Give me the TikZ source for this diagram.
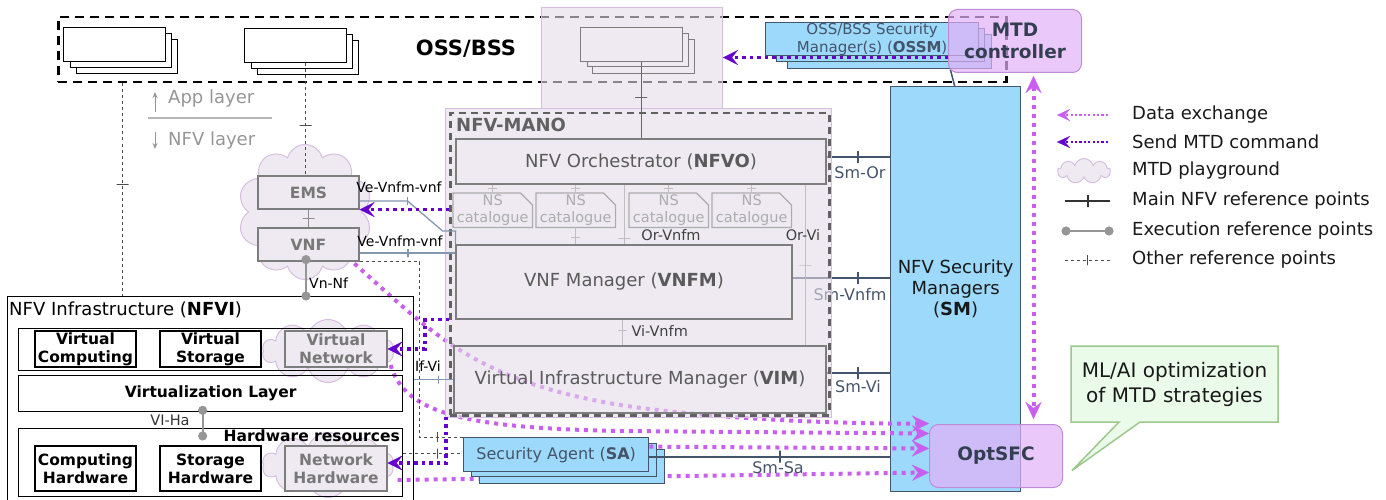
\documentclass[tikz,border=0pt]{standalone}
\usepackage{fontspec}
\setmainfont{DejaVu Sans}
\usetikzlibrary{arrows.meta,shapes.symbols,shapes.callouts}

\definecolor{flowpink}{RGB}{200,95,240}
\definecolor{cmdpurple}{RGB}{102,0,204}
\definecolor{smblue}{RGB}{157,217,250}
\definecolor{slate}{RGB}{68,84,106}
\definecolor{lav}{RGB}{239,234,242}
\definecolor{lavbase}{RGB}{228,220,233}
\definecolor{lavline}{RGB}{214,190,224}
\definecolor{mtdfill}{RGB}{226,176,248}
\definecolor{mtdline}{RGB}{190,140,215}
\definecolor{manotext}{RGB}{90,90,90}
\definecolor{ghosttext}{RGB}{120,120,120}
\definecolor{ghostline}{RGB}{125,125,125}
\definecolor{nsgray}{RGB}{172,172,172}
\definecolor{faintref}{RGB}{190,190,190}
\definecolor{linkgray}{RGB}{132,151,176}
\definecolor{execgray}{RGB}{150,150,150}
\definecolor{notefill}{RGB}{235,251,234}
\definecolor{noteline}{RGB}{157,200,141}
\definecolor{inktext}{RGB}{25,25,25}
\definecolor{layergray}{RGB}{150,150,150}
\definecolor{titleslate}{RGB}{51,63,80}

\pgfdeclarelayer{bottom}
\pgfdeclarelayer{shade}
\pgfsetlayers{bottom,shade,main}

\tikzset{
  fsz/.style n args={2}{font=\fontsize{#1}{#2}\selectfont},
  bfsz/.style n args={2}{font=\fontsize{#1}{#2}\selectfont\bfseries},
  datatip/.tip={Stealth[length=17pt,width=16pt,inset=6pt,line width=0.1pt]},
  cmdtip/.tip={Stealth[length=15pt,width=15pt,inset=6pt,line width=0.1pt]},
  smalldatatip/.tip={Stealth[length=13pt,width=12pt,inset=5pt,line width=0.1pt]},
  sheet/.style={draw=black, fill=white, line width=1.2pt, inner sep=0pt, anchor=north west},
  ghostsheet/.style={draw=ghostline, fill=lav, line width=1.2pt, inner sep=0pt, anchor=north west},
  bluesheet/.style={draw=slate, fill=smblue, line width=1.3pt, inner sep=0pt, anchor=north west},
  zone/.style={draw=lavline, fill=lavbase, fill opacity=0.6, line width=1pt, inner sep=0pt, anchor=north west},
  manobox/.style={draw=ghostline, line width=1.2pt, inner sep=0pt, text=manotext, fsz={18}{22}},
  infrabox/.style={draw=black, line width=1.3pt, inner sep=0pt},
  resbox/.style={draw=black, line width=1.3pt, inner sep=0pt, align=center, bfsz={15.5}{18}},
  ghostbox/.style={draw=ghostline, fill=lav, line width=1.2pt, inner sep=0pt, align=center, text=ghosttext, bfsz={15.5}{18}},
  playground/.style={cloud, cloud puffs=10, cloud ignores aspect, draw=lavline, fill=lav, line width=1pt, inner sep=0pt},
  catalogue/.style={inner sep=0pt, minimum width=79pt, minimum height=34pt, anchor=north west, align=center, text=nsgray, fsz={14.5}{17}},
  mtdbox/.style={draw=mtdline, fill=mtdfill, fill opacity=0.7, text opacity=1, rounded corners=9pt, line width=1pt, inner sep=0pt, anchor=north west, align=center, text=titleslate, bfsz={18.5}{22}},
  mainref/.style={draw=slate, line width=2pt},
  faint/.style={draw=faintref, line width=1pt},
  otherref/.style={draw=black!70, line width=0.8pt, dash pattern=on 3pt off 3pt},
  linkref/.style={draw=linkgray, line width=1.3pt},
  execref/.style={draw=execgray, line width=2.2pt, {Circle[length=9pt]}-{Circle[length=9pt]}, shorten <=-4.5pt, shorten >=-4.5pt},
  vtick/.style={draw, solid, inner sep=0pt, minimum width=0pt, minimum height=#1},
  vtick/.default=10pt,
  htick/.style={draw, solid, inner sep=0pt, minimum height=0pt, minimum width=#1},
  htick/.default=10pt,
  dataflow/.style={draw=flowpink, line width=4pt, dash pattern=on 4pt off 5pt, -datatip},
  cmdflow/.style={draw=cmdpurple, line width=3.5pt, dash pattern=on 3.5pt off 4pt, -cmdtip},
  reflabel/.style={fsz={14}{17}, text=black, inner sep=1pt},
  smlabel/.style={fsz={16}{19}, text=slate, inner sep=1pt},
  legendtext/.style={fsz={18}{22}, text=inktext, anchor=west, inner sep=0pt},
}

\begin{document}
\begin{tikzpicture}[x=1pt,y=-1pt]
\useasboundingbox (0,0) rectangle (1386,500);
\clip (0,0) rectangle (1386,500);

% ---------------- OSS/BSS domain ----------------
\begin{pgfonlayer}{bottom}
  \node[draw=black, line width=2.5pt, dash pattern=on 9pt off 6pt, inner sep=0pt,
        minimum width=948pt, minimum height=65pt, anchor=north west] (oss) at (57,16) {};
\end{pgfonlayer}

\node[sheet, minimum width=101pt, minimum height=34pt] at (76,39) {};
\node[sheet, minimum width=101pt, minimum height=34pt] at (70,33) {};
\node[sheet, minimum width=102pt, minimum height=34pt] (app1) at (63,27) {};

\node[sheet, minimum width=101pt, minimum height=34pt] at (257,40) {};
\node[sheet, minimum width=101pt, minimum height=34pt] at (251,34) {};
\node[sheet, minimum width=102pt, minimum height=34pt] (app2) at (244,28) {};

\node[bfsz={21}{25}] (osslabel) at (466,49) {OSS/BSS};

% layer separation
\node[fsz={18}{22}, text=layergray, anchor=west, inner sep=0pt] (applayer) at (168,99) {App layer};
\node[fsz={18}{22}, text=layergray, anchor=west, inner sep=0pt] (nfvlayer) at (168,141) {NFV layer};
\draw[layergray!70, line width=1.2pt] (148,118) -- (272,118);
\draw[layergray, line width=1pt, -{Stealth[length=6pt,width=5pt]}] (155,112) -- (155,92);
\draw[layergray, line width=1pt, -{Stealth[length=6pt,width=5pt]}] (155,132) -- (155,149);

% ---------------- NFV-MANO zone ----------------
\begin{pgfonlayer}{shade}
  \node[zone, minimum width=181pt, minimum height=101pt] (osszone) at (541,7) {};
  \node[zone, minimum width=386pt, minimum height=309pt] (manozone) at (445,108) {};
\end{pgfonlayer}

\node[ghostsheet, minimum width=102pt, minimum height=34pt] at (592,39) {};
\node[ghostsheet, minimum width=101pt, minimum height=33pt] at (587,33) {};
\node[ghostsheet, minimum width=102pt, minimum height=34pt] (app3) at (580,27) {};

\node[draw=black!62, line width=2.5pt, dash pattern=on 7pt off 5pt, inner sep=0pt,
      minimum width=379pt, minimum height=302pt, anchor=north west] (mano) at (449,112) {};
\node[bfsz={18}{22}, text=black!62, anchor=west, inner sep=0pt] (manolabel) at (456,125) {NFV-MANO};

\node[manobox, minimum width=370pt, minimum height=45pt] (nfvo) at (641,161.5) {NFV Orchestrator (\textbf{NFVO})};
\node[manobox, minimum width=336pt, minimum height=74pt] (vnfm) at (624,282) {VNF Manager (\textbf{VNFM})};
\node[manobox, minimum width=372pt, minimum height=67pt] (vim) at (640,379.5) {Virtual Infrastructure Manager (\textbf{VIM})};

\node[catalogue] (cat1) at (453,193) {NS\\catalogue};
\node[catalogue] (cat2) at (536,193) {NS\\catalogue};
\node[catalogue] (cat3) at (629,193) {NS\\catalogue};
\node[catalogue] (cat4) at (712,193) {NS\\catalogue};
\foreach \c in {cat1,cat2,cat3,cat4}{
  \draw[draw=nsgray, line width=1.2pt, line join=miter]
    (\c.north west) -- ([xshift=-12pt]\c.north east) -- ([yshift=-12pt]\c.north east)
    -- (\c.south east) -- (\c.south west) -- cycle;
  \draw[faint] (\c.north |- nfvo.south) -- (\c.north) node[htick=9pt, pos=0.45] {};
}
\draw[faint] (cat2.south) -- (cat2.south |- vnfm.north) node[htick=9pt, pos=0.6] {};

% internal MANO reference points
\draw[black!60, line width=1pt] (nfvo.north |- app3.south) -- (nfvo.north) node[htick=12pt, pos=0.46] {};
\coordinate (orvnfm) at ([xshift=169pt]nfvo.south west);
\draw[faint] (orvnfm) -- (orvnfm |- vnfm.north) node[htick=12pt, pos=0.9] {};
\node[fsz={14.5}{17}, text=black!75] (orvnfmlabel) at (671,235) {Or-Vnfm};
\coordinate (orvi) at ([xshift=350pt]nfvo.south west);
\draw[faint] (orvi) -- (orvi |- vim.north) node[htick=12pt, pos=0.5] {};
\node[fsz={14.5}{17}, text=black!75] (orvilabel) at (803,235) {Or-Vi};
\coordinate (vivnfm) at ([xshift=167pt]vnfm.south west);
\draw[faint] (vivnfm) -- (vivnfm |- vim.north) node[htick=8pt, pos=0.44] {};
\node[fsz={14.5}{17}, text=black!75, anchor=west] (vivnfmlabel) at (628,331) {Vi-Vnfm};

% ---------------- Security managers ----------------
\begin{pgfonlayer}{bottom}
  \node[bluesheet, minimum width=130pt, minimum height=405pt, align=center, fsz={18}{21}, text=inktext] (sm) at (890,86)
    {NFV Security\\Managers\\(\textbf{SM})};
  \coordinate (smor) at ([yshift=4.5pt]nfvo.east);
  \draw[mainref] (smor) -- (smor -| sm.west) node[vtick=12pt, pos=0.5] {};
  \coordinate (smvnfm) at ([yshift=4pt]vnfm.east);
  \draw[mainref] (smvnfm) -- (smvnfm -| sm.west) node[vtick=12pt, pos=0.673] {};
  \coordinate (smvi) at ([yshift=6.5pt]vim.east);
  \draw[mainref] (smvi) -- (smvi -| sm.west) node[vtick=12pt, pos=0.5] {};
  \node[smlabel] (smvnfmlabel) at (850,295) {Sm-Vnfm};
\end{pgfonlayer}
\node[smlabel] (smorlabel) at (860,173) {Sm-Or};
\node[smlabel] (smvilabel) at (858,387) {Sm-Vi};

% OSS/BSS security managers
\node[bluesheet, minimum width=204pt, minimum height=34pt] at (787,34) {};
\node[bluesheet, minimum width=208pt, minimum height=33pt] at (776,28) {};
\node[bluesheet, minimum width=213pt, minimum height=33pt, align=center, fsz={15}{18}, text=slate] (ossm) at (765,22)
  {OSS/BSS Security\\Manager(s) (\textbf{OSSM})};
\coordinate (ossmfoot) at ([xshift=-29pt,yshift=-13pt]ossm.south east);
\draw[slate, line width=1.5pt] (ossmfoot) -- ([xshift=-1pt]sm.north);

% ---------------- NFV Infrastructure ----------------
\node[infrabox, minimum width=406pt, minimum height=214pt, anchor=north west] (nfvi) at (7,296) {};
\node[fsz={18}{22}, anchor=west, inner sep=0pt] (nfvititle) at (9,310) {NFV Infrastructure (\textbf{NFVI})};

\node[infrabox, minimum width=384pt, minimum height=42pt, anchor=north west] (vrow) at (18,328) {};
\node[resbox, minimum width=101pt, minimum height=36pt] (vc) at (85.5,349) {Virtual\\Computing};
\node[resbox, minimum width=101pt, minimum height=36pt] (vs) at (210.5,349) {Virtual\\Storage};
\begin{pgfonlayer}{bottom}
  \node[playground, minimum width=131pt, minimum height=63pt] (vncloud) at (328,351) {};
  \node[playground, minimum width=131pt, minimum height=65pt] (nhcloud) at (328,465) {};
  \node[playground, minimum width=134pt, minimum height=135pt] (vnfcloud) at (305,212) {};
\end{pgfonlayer}
\node[ghostbox, minimum width=102pt, minimum height=36pt] (vn) at (336,349) {Virtual\\Network};

\node[infrabox, minimum width=384pt, minimum height=36pt, anchor=north west, bfsz={15.5}{18}] (vlayer) at (18,375) {Virtualization Layer};
\node[infrabox, minimum width=384pt, minimum height=68pt, anchor=north west] (hwres) at (18,428) {};
\node[bfsz={15.5}{18}, anchor=east, inner sep=0pt] (hwtitle) at (400,436) {Hardware resources};
\node[resbox, minimum width=101pt, minimum height=45pt] (ch) at (85.5,468.5) {Computing\\Hardware};
\node[resbox, minimum width=101pt, minimum height=45pt] (sh) at (210.5,468.5) {Storage\\Hardware};
\node[ghostbox, minimum width=102pt, minimum height=45pt] (nh) at (336,468.5) {Network\\Hardware};

\coordinate (vldot) at ([xshift=-8pt,yshift=2pt]vlayer.south);
\coordinate (hwdot) at ([xshift=-8pt,yshift=-8pt]hwres.north);
\draw[execref] (vldot) -- (hwdot);
\node[fsz={14.5}{17}, text=black!80] (vihalabel) at (170,420) {VI-Ha};

% ---------------- VNF and EMS ----------------
\node[ghostbox, minimum width=101pt, minimum height=33pt] (ems) at (308.5,192.5) {EMS};
\node[ghostbox, minimum width=101pt, minimum height=33pt] (vnf) at (308.5,244.5) {VNF};
\draw[black!45, line width=1pt] (ems.south) -- (vnf.north) node[htick=12pt, pos=0.5] {};

\coordinate (app2foot) at ([xshift=10pt]app2.south);
\draw[otherref] (app2foot) -- (app2foot |- ems.north) node[htick=12pt, pos=0.55] {};
\coordinate (app1foot) at ([xshift=8pt]app1.south);
\draw[otherref] (app1foot |- oss.south) -- (app1foot |- nfvi.north) node[htick=12pt, pos=0.474] {};

\coordinate (vnfdot) at ([xshift=-2.5pt,yshift=2pt]vnf.south);
\draw[execref] (vnfdot) -- (vnfdot |- nfvi.north);
\node[reflabel, anchor=west] (vnnflabel) at (308,283) {Vn-Nf};

\coordinate (emslink) at ([yshift=-8.5pt]ems.east);
\draw[linkref] (emslink) -- ++(48,0) node[vtick=8pt] {} -- ++(35,30) -- ++(13,0) -- (vnfm.north west);
\node[reflabel] (vevnfm1) at (399,187) {Ve-Vnfm-vnf};
\coordinate (vnflink) at ([yshift=-8.5pt]vnf.east);
\draw[linkref] (vnflink) -- (vnflink -| vnfm.west) node[vtick=8pt, pos=0.505] {};
\node[reflabel] (vevnfm2) at (400,241) {Ve-Vnfm-vnf};

\coordinate (ifvi) at (vim.west);
\draw[linkref] (ifvi -| nfvi.east) -- (ifvi) node[vtick=8pt, pos=0.61] {};
\node[reflabel] (ifvilabel) at (428,366) {If-Vi};

% ---------------- Security agents ----------------
\node[bluesheet, minimum width=185pt, minimum height=34pt] at (479,449) {};
\node[bluesheet, minimum width=185pt, minimum height=33pt] at (471,443) {};
\node[bluesheet, minimum width=185pt, minimum height=34pt, fsz={16}{19}, text=slate] (sa) at (463,437) {Security Agent (\textbf{SA})};

\coordinate (vnfbend) at ([xshift=60pt]vnf.south east);
\draw[otherref] (vnf.south east) -- (vnfbend) |- (sa.north west) node[vtick=10pt, pos=0.705] {};
\coordinate (hwlink) at ([yshift=9pt]hwres.east);
\draw[otherref] (hwlink) -- (hwlink -| sa.west) node[vtick=10pt, pos=0.57] {};

\coordinate (smsa) at ([yshift=-2pt]sa.east);
\draw[mainref] (smsa) -- (smsa -| sm.west) node[vtick=12pt, pos=0.545] {};
\node[smlabel] (smsalabel) at (778,468) {Sm-Sa};

% ---------------- MTD components ----------------
\node[mtdbox, minimum width=133pt, minimum height=63pt] (optsfc) at (929,424) {OptSFC};
\coordinate (inA) at ([yshift=32.5pt]optsfc.west);
\coordinate (inB) at ([yshift=22.5pt]optsfc.west);
\coordinate (inC) at ([yshift=7.5pt]optsfc.west);
\coordinate (inD) at ([yshift=-16.5pt]optsfc.west);

\begin{pgfonlayer}{bottom}
  \draw[dataflow] ([xshift=-12pt,yshift=4pt]vnf.south east)
    .. controls (430,330) and (470,380) .. (620,405)
    .. controls (720,420) and (850,424) .. (inA);
  \draw[dataflow] ([xshift=3pt,yshift=-16pt]vn.east)
    .. controls (405,415) and (470,428) .. (620,431) -- (inB);
  \draw[dataflow] ([xshift=10pt,yshift=-11.5pt]nh.east) -- (inD);
\end{pgfonlayer}
\draw[dataflow] ([yshift=8pt]sa.east) -- (inC);

% MTD commands
\draw[cmdflow] (mano.west |- ems.south) -- (ems.south east);
\draw[cmdflow] (mano.west |- vnfm.south) -- ++(-24,0) |- (vn.east);
\draw[cmdflow] ([xshift=-3pt]mano.south west) |- ([yshift=5.5pt]nh.east);

\node[mtdbox, minimum width=133pt, minimum height=63pt] (mtd) at (948,9) {MTD\\controller};
\coordinate (cmdstart) at ([yshift=-16.5pt]mtd.west);
\draw[cmdflow] (cmdstart) -- (cmdstart -| osszone.east);
\coordinate (vtop) at ([xshift=18.5pt,yshift=-3pt]mtd.south);
\draw[dataflow, datatip-datatip, shorten >=5pt] (vtop) -- (vtop |- optsfc.north);

% ML/AI note
\coordinate (notetip) at ([xshift=9pt,yshift=-14.5pt]optsfc.east);
\node[rectangle callout, draw=noteline, fill=notefill, line width=1.5pt, inner sep=0pt,
      minimum width=207pt, minimum height=76pt, align=center, fsz={20}{25}, text=inktext,
      callout absolute pointer={(notetip)}, callout pointer width=21pt] (note) at (1174.5,384)
  {ML/AI optimization\\of MTD strategies};

% ---------------- Legend ----------------
\node[legendtext] (lg1) at (1132,115) {Data exchange};
\node[legendtext] (lg2) at (1132,142) {Send MTD command};
\node[legendtext] (lg3) at (1132,171) {MTD playground};
\node[legendtext] (lg4) at (1132,201) {Main NFV reference points};
\node[legendtext] (lg5) at (1132,231) {Execution reference points};
\node[legendtext] (lg6) at (1132,260) {Other reference points};

\draw[draw=flowpink, line width=2.2pt, dash pattern=on 2.2pt off 2.2pt, -smalldatatip]
  ([xshift=-24pt]lg1.west) -- ([xshift=-75pt]lg1.west);
\draw[draw=cmdpurple, line width=2.2pt, dash pattern=on 2.2pt off 2.2pt, -smalldatatip]
  ([xshift=-24pt]lg2.west) -- ([xshift=-75pt]lg2.west);
\node[playground, minimum width=53pt, minimum height=25pt, cloud puffs=9] (lgcloud) at ([xshift=-48pt]lg3.west) {};
\draw[draw=black!80, line width=2pt] ([xshift=-22pt]lg4.west) -- ([xshift=-67pt]lg4.west) node[vtick=12pt, pos=0.49] {};
\draw[execref, line width=2.5pt] ([xshift=-23pt]lg5.west) -- ([xshift=-66pt]lg5.west);
\draw[otherref] ([xshift=-22pt]lg6.west) -- ([xshift=-68pt]lg6.west) node[vtick=10pt, pos=0.5] {};

\end{tikzpicture}
\end{document}
